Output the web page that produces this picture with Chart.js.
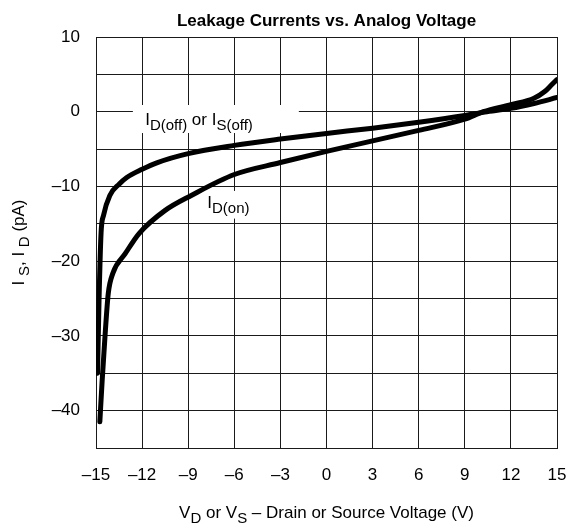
<!DOCTYPE html>
<html>
<head>
<meta charset="utf-8">
<script src="https://cdn.jsdelivr.net/npm/chart.js@4.4.1/dist/chart.umd.min.js"></script>
<style>
  html, body { margin: 0; padding: 0; background: #fff; }
  #wrap { width: 569px; height: 525px; }
</style>
</head>
<body>
<div id="wrap"><canvas id="leak" width="569" height="525"></canvas></div>
<script>
// valores
const offV = [-14.9, -14.8, -14.67, -14.5, -14.1, -13.5, -13, -12, -11, -9, -6, -3, 0, 3, 6, 9, 10.3, 12, 13.5, 15];
const offI = [-35, -25, -16.2, -13.8, -11.2, -9.7, -8.8, -7.7, -6.8, -5.6, -4.5, -3.65, -2.9, -2.2, -1.4, -0.5, -0.05, 0.45, 1.1, 1.9];
const onV = [-14.75, -14.6, -14.4, -14.2, -13.9, -13.1, -12.2, -10.5, -8.8, -6, -3, 0, 3, 6, 9, 10.2, 12, 13.5, 14.2, 14.65, 15];
const onI = [-41.5, -36, -29.6, -24.3, -21.6, -19, -16.3, -13.2, -11.2, -8.4, -6.8, -5.3, -3.9, -2.5, -1.0, 0, 0.95, 1.8, 2.7, 3.6, 4.3];

const xTicks = [-15, -12, -9, -6, -3, 0, 3, 6, 9, 12, 15];
const yTicks = [10, 5, 0, -5, -10, -15, -20, -25, -30, -35, -40, -45];
const yLabeled = [10, 0, -10, -20, -30, -40];

const FONT = "'Liberation Sans', Arial, sans-serif";
const INK = '#000';
const GRID = '#1a1a1a';

function toPoints(xs, ys) { return xs.map((x, i) => ({ x: x, y: ys[i] })); }
function dash(v) { return v < 0 ? '\u2013' + Math.abs(v) : String(v); }

// texto com subscritos: parts = [[texto, ehSub], ...]
function drawParts(ctx, parts, x, y, align) {
    const big = '17px ' + FONT, small = '15px ' + FONT;
    let total = 0;
    parts.forEach(p => { ctx.font = p[1] ? small : big; total += ctx.measureText(p[0]).width; });
    let cx = align === 'center' ? x - total / 2 : x;
    ctx.textAlign = 'left';
    ctx.textBaseline = 'alphabetic';
    parts.forEach(p => {
        ctx.font = p[1] ? small : big;
        ctx.fillText(p[0], cx, p[1] ? y + 5 : y);
        cx += ctx.measureText(p[0]).width;
    });
}

const labels = [
    { parts: [['I', false], ['D(off)', true], [' or I', false], ['S(off)', true]], x: -11.8, y: -1.8, box: [-12.6, 0.9, -1.8, -2.85] },
    { parts: [['I', false], ['D(on)', true]], x: -7.76, y: -12.9, box: [-7.55, -10.6, -5.0, -14.3] }
];

const textPlugin = {
    id: 'textPlugin',
    beforeDatasetsDraw(chart) {
        const ctx = chart.ctx, xs = chart.scales.x, ys = chart.scales.y;
        ctx.save();
        ctx.fillStyle = '#fff';
        labels.forEach(l => {
            const x1 = xs.getPixelForValue(l.box[0]), y1 = ys.getPixelForValue(l.box[1]);
            const x2 = xs.getPixelForValue(l.box[2]), y2 = ys.getPixelForValue(l.box[3]);
            ctx.fillRect(x1, y1, x2 - x1, y2 - y1);
        });
        ctx.restore();
    },
    afterDatasetsDraw(chart) {
        const ctx = chart.ctx, xs = chart.scales.x, ys = chart.scales.y, a = chart.chartArea;
        ctx.save();
        ctx.fillStyle = INK;
        labels.forEach(l => {
            drawParts(ctx, l.parts, xs.getPixelForValue(l.x), ys.getPixelForValue(l.y), 'left');
        });
        const mid = (a.left + a.right) / 2;
        // título
        ctx.font = 'bold 17px ' + FONT;
        ctx.textAlign = 'center';
        ctx.textBaseline = 'alphabetic';
        ctx.fillText('Leakage Currents vs. Analog Voltage', mid, 26);
        // eixo x
        drawParts(ctx, [['V', false], ['D', true], [' or V', false], ['S', true], [' \u2013 Drain or Source Voltage (V)', false]], mid, 518, 'center');
        // eixo y
        ctx.translate(24, (a.top + a.bottom) / 2);
        ctx.rotate(-Math.PI / 2);
        drawParts(ctx, [['I ', false], ['S', true], [', I ', false], ['D', true], [' (pA)', false]], 0, 0, 'center');
        ctx.restore();
    }
};

const lineStyle = { borderColor: INK, borderWidth: 5, pointRadius: 0, fill: false, cubicInterpolationMode: 'monotone', borderCapStyle: 'round', borderJoinStyle: 'round' };

new Chart(document.getElementById('leak'), {
    type: 'line',
    data: {
        datasets: [
            Object.assign({ label: 'ID(off) or IS(off)', data: toPoints(offV, offI) }, lineStyle),
            Object.assign({ label: 'ID(on)', data: toPoints(onV, onI) }, lineStyle)
        ]
    },
    options: {
        responsive: false,
        devicePixelRatio: 1,
        animation: false,
        layout: { padding: { top: 37, right: 12, left: 0, bottom: 0 } },
        plugins: { legend: { display: false }, title: { display: false }, tooltip: { enabled: false } },
        scales: {
            x: {
                type: 'linear', min: -15, max: 15,
                afterBuildTicks: s => { s.ticks = xTicks.map(v => ({ value: v })); },
                afterFit: s => { s.height = 77; s.paddingLeft = 0; s.paddingRight = 0; },
                ticks: { color: INK, font: { family: FONT, size: 17 }, padding: 17, maxRotation: 0, autoSkip: false, callback: v => dash(v) },
                grid: { color: GRID, lineWidth: 1, drawTicks: false },
                border: { color: GRID, width: 1 }
            },
            y: {
                type: 'linear', min: -45, max: 10,
                afterBuildTicks: s => { s.ticks = yTicks.map(v => ({ value: v })); },
                afterFit: s => { s.width = 96; s.paddingTop = 0; s.paddingBottom = 0; },
                ticks: { color: INK, font: { family: FONT, size: 17 }, padding: 16, autoSkip: false, callback: v => yLabeled.includes(v) ? dash(v) : '' },
                grid: { color: GRID, lineWidth: 1, drawTicks: false },
                border: { color: GRID, width: 1 }
            }
        }
    },
    plugins: [textPlugin]
});
</script>
</body>
</html>
